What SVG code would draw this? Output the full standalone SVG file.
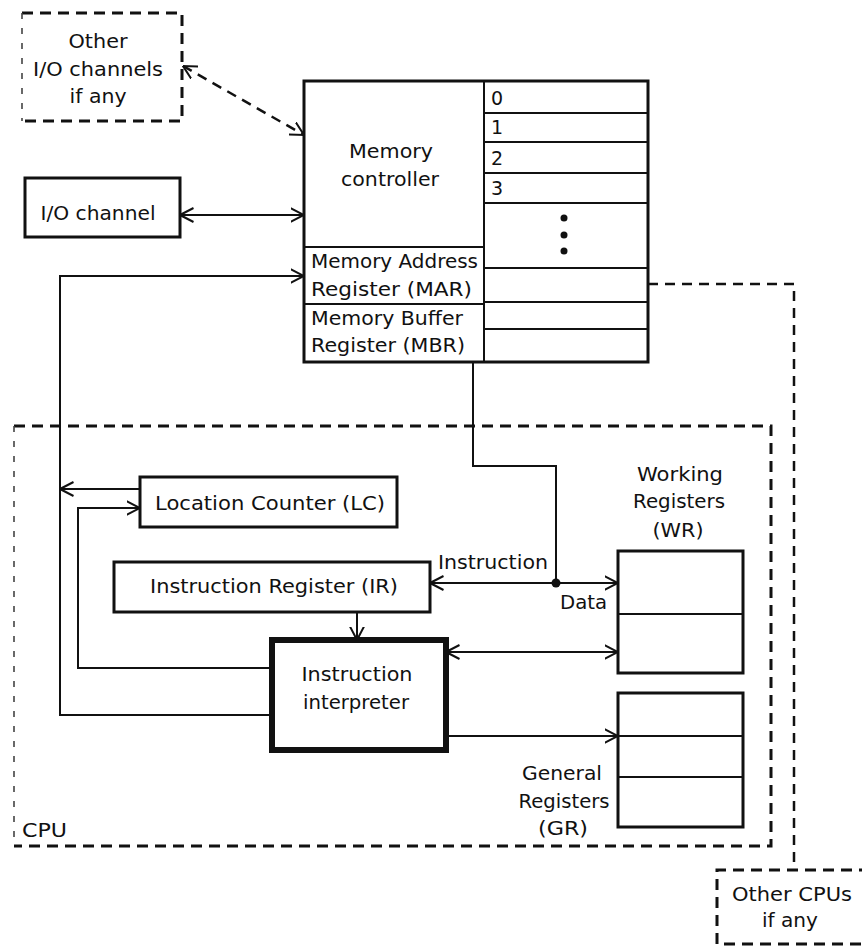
<svg xmlns="http://www.w3.org/2000/svg" width="862" height="946" viewBox="0 0 862 946">
  <style>
    text { font-family: "DejaVu Sans", "Open Sans", sans-serif; font-size: 19px; fill: #111; }
    .box { fill: none; stroke: #111; stroke-width: 3; }
    .thick { fill: none; stroke: #111; stroke-width: 6; }
    .div { fill: none; stroke: #111; stroke-width: 2; }
    .dash { fill: none; stroke: #111; stroke-width: 3; stroke-dasharray: 11 7; }
    .faint { fill: none; stroke: #444; stroke-width: 1.6; stroke-dasharray: 6 9; }
    .wire { fill: none; stroke: #111; stroke-width: 2; }
    .dwire { fill: none; stroke: #111; stroke-width: 2.5; stroke-dasharray: 10 7; }
    .mid { text-anchor: middle; }
  </style>
  <defs>
    <marker id="arr" markerUnits="userSpaceOnUse" viewBox="0 0 14 16" markerWidth="14" markerHeight="16" refX="13.5" refY="8" orient="auto-start-reverse">
      <path d="M0,1 L13.5,8 L0,15" fill="none" stroke="#111" stroke-width="2"/>
    </marker>
  </defs>

  <!-- Other I/O channels (optional) -->
  <g id="other-io">
    <path class="dash" d="M22,13 H182 V121 H22"/>
    <path class="faint" d="M22,13 V121"/>
    <text class="mid" x="98" y="48" textLength="59" lengthAdjust="spacingAndGlyphs">Other</text>
    <text class="mid" x="98" y="76" textLength="130" lengthAdjust="spacingAndGlyphs">I/O channels</text>
    <text class="mid" x="98" y="103" textLength="57" lengthAdjust="spacingAndGlyphs">if any</text>
  </g>

  <!-- I/O channel -->
  <g id="io-channel">
    <rect class="box" x="25" y="178" width="155" height="59"/>
    <text class="mid" x="98" y="220" textLength="115" lengthAdjust="spacingAndGlyphs">I/O channel</text>
  </g>

  <!-- Memory: controller, MAR, MBR and word cells -->
  <g id="memory">
    <rect class="box" x="304" y="81" width="344" height="281"/>
    <path class="div" d="M484,81 V362"/>
    <path class="div" d="M304,247 H484 M304,304 H484"/>
    <path class="div" d="M484,113 H648 M484,142 H648 M484,173 H648 M484,203 H648 M484,268 H648 M484,302 H648 M484,329 H648"/>
    <text class="mid" x="391" y="158" textLength="84" lengthAdjust="spacingAndGlyphs">Memory</text>
    <text class="mid" x="390" y="186" textLength="98" lengthAdjust="spacingAndGlyphs">controller</text>
    <text x="311" y="268" textLength="167" lengthAdjust="spacingAndGlyphs">Memory Address</text>
    <text x="311" y="296" textLength="161" lengthAdjust="spacingAndGlyphs">Register (MAR)</text>
    <text x="311" y="325" textLength="152" lengthAdjust="spacingAndGlyphs">Memory Buffer</text>
    <text x="311" y="352" textLength="154" lengthAdjust="spacingAndGlyphs">Register (MBR)</text>
    <text x="491" y="105">0</text>
    <text x="491" y="134">1</text>
    <text x="491" y="165">2</text>
    <text x="491" y="195">3</text>
    <circle cx="564" cy="218" r="3.5" fill="#111"/>
    <circle cx="564" cy="235" r="3.5" fill="#111"/>
    <circle cx="564" cy="251" r="3.5" fill="#111"/>
  </g>

  <!-- CPU boundary -->
  <g id="cpu">
    <path class="dash" d="M14,426 H771 V846 H14"/>
    <path class="faint" d="M14,426 V846"/>
    <text x="22" y="837" textLength="45" lengthAdjust="spacingAndGlyphs">CPU</text>
  </g>

  <g id="location-counter">
    <rect class="box" x="140" y="477" width="257" height="50"/>
    <text class="mid" x="270" y="510" textLength="230" lengthAdjust="spacingAndGlyphs">Location Counter (LC)</text>
  </g>

  <g id="instruction-register">
    <rect class="box" x="114" y="562" width="316" height="50"/>
    <text class="mid" x="274" y="593" textLength="248" lengthAdjust="spacingAndGlyphs">Instruction Register (IR)</text>
  </g>

  <g id="instruction-interpreter">
    <rect class="thick" x="272" y="640" width="174" height="110"/>
    <text class="mid" x="357" y="681" textLength="111" lengthAdjust="spacingAndGlyphs">Instruction</text>
    <text class="mid" x="356" y="709" textLength="106" lengthAdjust="spacingAndGlyphs">interpreter</text>
  </g>

  <g id="working-registers">
    <rect class="box" x="618" y="551" width="125" height="122"/>
    <path class="div" d="M618,614 H743"/>
    <text class="mid" x="680" y="481" textLength="86" lengthAdjust="spacingAndGlyphs">Working</text>
    <text class="mid" x="679" y="508" textLength="92" lengthAdjust="spacingAndGlyphs">Registers</text>
    <text class="mid" x="678" y="537" textLength="51" lengthAdjust="spacingAndGlyphs">(WR)</text>
  </g>

  <g id="general-registers">
    <rect class="box" x="618" y="693" width="125" height="134"/>
    <path class="div" d="M618,736 H743 M618,777 H743"/>
    <text class="mid" x="562" y="780" textLength="80" lengthAdjust="spacingAndGlyphs">General</text>
    <text class="mid" x="564" y="808" textLength="91" lengthAdjust="spacingAndGlyphs">Registers</text>
    <text class="mid" x="563" y="835" textLength="50" lengthAdjust="spacingAndGlyphs">(GR)</text>
  </g>

  <!-- Other CPUs (optional) -->
  <g id="other-cpus">
    <path class="dash" d="M870,870 H717 V944 H870"/>
    <text class="mid" x="792" y="901" textLength="120" lengthAdjust="spacingAndGlyphs">Other CPUs</text>
    <text class="mid" x="790" y="927" textLength="56" lengthAdjust="spacingAndGlyphs">if any</text>
  </g>

  <!-- Connectors -->
  <g id="connectors">
    <path class="dwire" d="M183,66 L304,135" marker-start="url(#arr)" marker-end="url(#arr)"/>
    <path class="wire" d="M180,215 H304" marker-start="url(#arr)" marker-end="url(#arr)"/>
    <path class="wire" d="M272,715 H60 V276 H304" marker-end="url(#arr)"/>
    <path class="wire" d="M140,489 H60" marker-end="url(#arr)"/>
    <path class="wire" d="M272,668 H78 V508 H140" marker-end="url(#arr)"/>
    <path class="wire" d="M357,612 V640" marker-end="url(#arr)"/>
    <path class="wire" d="M473,362 V466 H556 V583"/>
    <path class="wire" d="M430,583 H618" marker-start="url(#arr)" marker-end="url(#arr)"/>
    <circle cx="556" cy="583" r="4.5" fill="#111"/>
    <text x="438" y="569" textLength="110" lengthAdjust="spacingAndGlyphs">Instruction</text>
    <text x="560" y="609" textLength="47" lengthAdjust="spacingAndGlyphs">Data</text>
    <path class="wire" d="M446,652 H618" marker-start="url(#arr)" marker-end="url(#arr)"/>
    <path class="wire" d="M446,736 H618" marker-end="url(#arr)"/>
    <path class="dwire" d="M648,284 H794 V870"/>
  </g>
</svg>
